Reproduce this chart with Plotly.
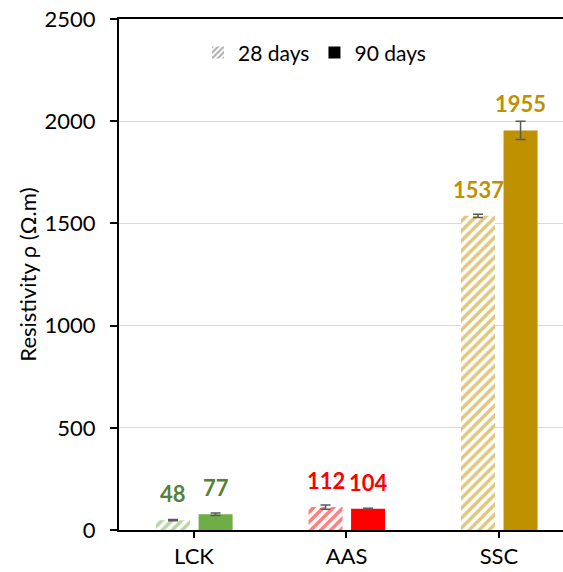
import plotly.graph_objects as go

categories = ["LCK", "AAS", "SSC"]
series_names = ["28 days", "90 days"]
days28 = [48, 112, 1537]
days90 = [77, 104, 1955]
err28 = [3, 10, 8]
err90 = [6, 3, 45]
bar_colors = ["#70AD47", "#FF0000", "#BF9000"]
label_colors = ["#548235", "#FF0000", "#BF9000"]
y_ticks = [0, 500, 1000, 1500, 2000, 2500]

FONT = "Lato"
FS = 22
xs = list(range(len(categories)))
W = 0.223
OFF28 = -0.249
OFF90 = 0.03
ERR_STYLE = dict(type="data", color="#595959", thickness=1.5, width=5, visible=True)

fig = go.Figure()

fig.add_trace(go.Bar(
    x=xs, y=days28, width=W, offset=OFF28, showlegend=False,
    marker=dict(color="white", line=dict(width=0),
                pattern=dict(shape="/", fgcolor=bar_colors, bgcolor="white",
                             size=7, solidity=0.5, fillmode="overlay")),
    error_y=dict(array=err28, **ERR_STYLE),
))
fig.add_trace(go.Bar(
    x=xs, y=days90, width=W, offset=OFF90, showlegend=False,
    marker=dict(color=bar_colors, line=dict(width=0)),
    error_y=dict(array=err90, **ERR_STYLE),
))

# legend-only entries
fig.add_trace(go.Bar(
    x=[None], y=[None], name=series_names[0],
    marker=dict(color="white", line=dict(width=0),
                pattern=dict(shape="/", fgcolor="#595959", bgcolor="white",
                             size=5, solidity=0.5, fillmode="overlay")),
))
fig.add_trace(go.Bar(
    x=[None], y=[None], name=series_names[1],
    marker=dict(color="#000000", line=dict(width=0)),
))

annotations = []
for i in xs:
    for vals, off in ((days28, OFF28), (days90, OFF90)):
        annotations.append(dict(
            x=i + off + W / 2, y=vals[i], xref="x", yref="y",
            text=f"<b>{vals[i]}</b>", showarrow=False,
            yanchor="bottom", yshift=11,
            font=dict(family=FONT, size=FS, color=label_colors[i]),
        ))

fig.update_layout(
    width=563, height=572,
    margin=dict(l=119, r=0, t=19, b=42),
    paper_bgcolor="white", plot_bgcolor="white",
    barmode="overlay",
    font=dict(family=FONT, size=FS, color="#000000"),
    annotations=annotations,
    legend=dict(orientation="h", x=0.178, y=0.934, xanchor="left", yanchor="middle",
                font=dict(family=FONT, size=21, color="#000000"),
                bgcolor="rgba(0,0,0,0)", traceorder="normal", itemwidth=30),
    xaxis=dict(
        range=[-0.492, 2.42], tickvals=xs, ticktext=categories,
        ticks="outside", ticklen=6, tickwidth=2, tickcolor="#000000",
        showline=True, linecolor="#000000", linewidth=2, mirror=True,
        showgrid=False, zeroline=False,
        tickfont=dict(family=FONT, size=FS, color="#000000"),
    ),
    yaxis=dict(
        range=[0, 2500], tickvals=y_ticks,
        ticks="outside", ticklen=7, tickwidth=2, tickcolor="#000000",
        showline=True, linecolor="#000000", linewidth=2,
        showgrid=True, gridcolor="#D9D9D9", gridwidth=1, zeroline=False,
        tickfont=dict(family=FONT, size=FS, color="#000000"),
        ticklabelstandoff=10,
        title=dict(text="Resistivity ρ (Ω.m)", font=dict(family=FONT, size=FS, color="#000000"), standoff=2),
    ),
    yaxis2=dict(
        range=[0, 2500], tickvals=y_ticks, overlaying="y", side="left", anchor="x",
        ticks="inside", ticklen=7, tickwidth=2, tickcolor="#000000",
        showticklabels=False, showgrid=False, showline=False, zeroline=False,
    ),
)

fig.write_html("out.html", config={"displayModeBar": False},
               post_script="document.body.style.margin='0';document.body.style.overflow='hidden';")
